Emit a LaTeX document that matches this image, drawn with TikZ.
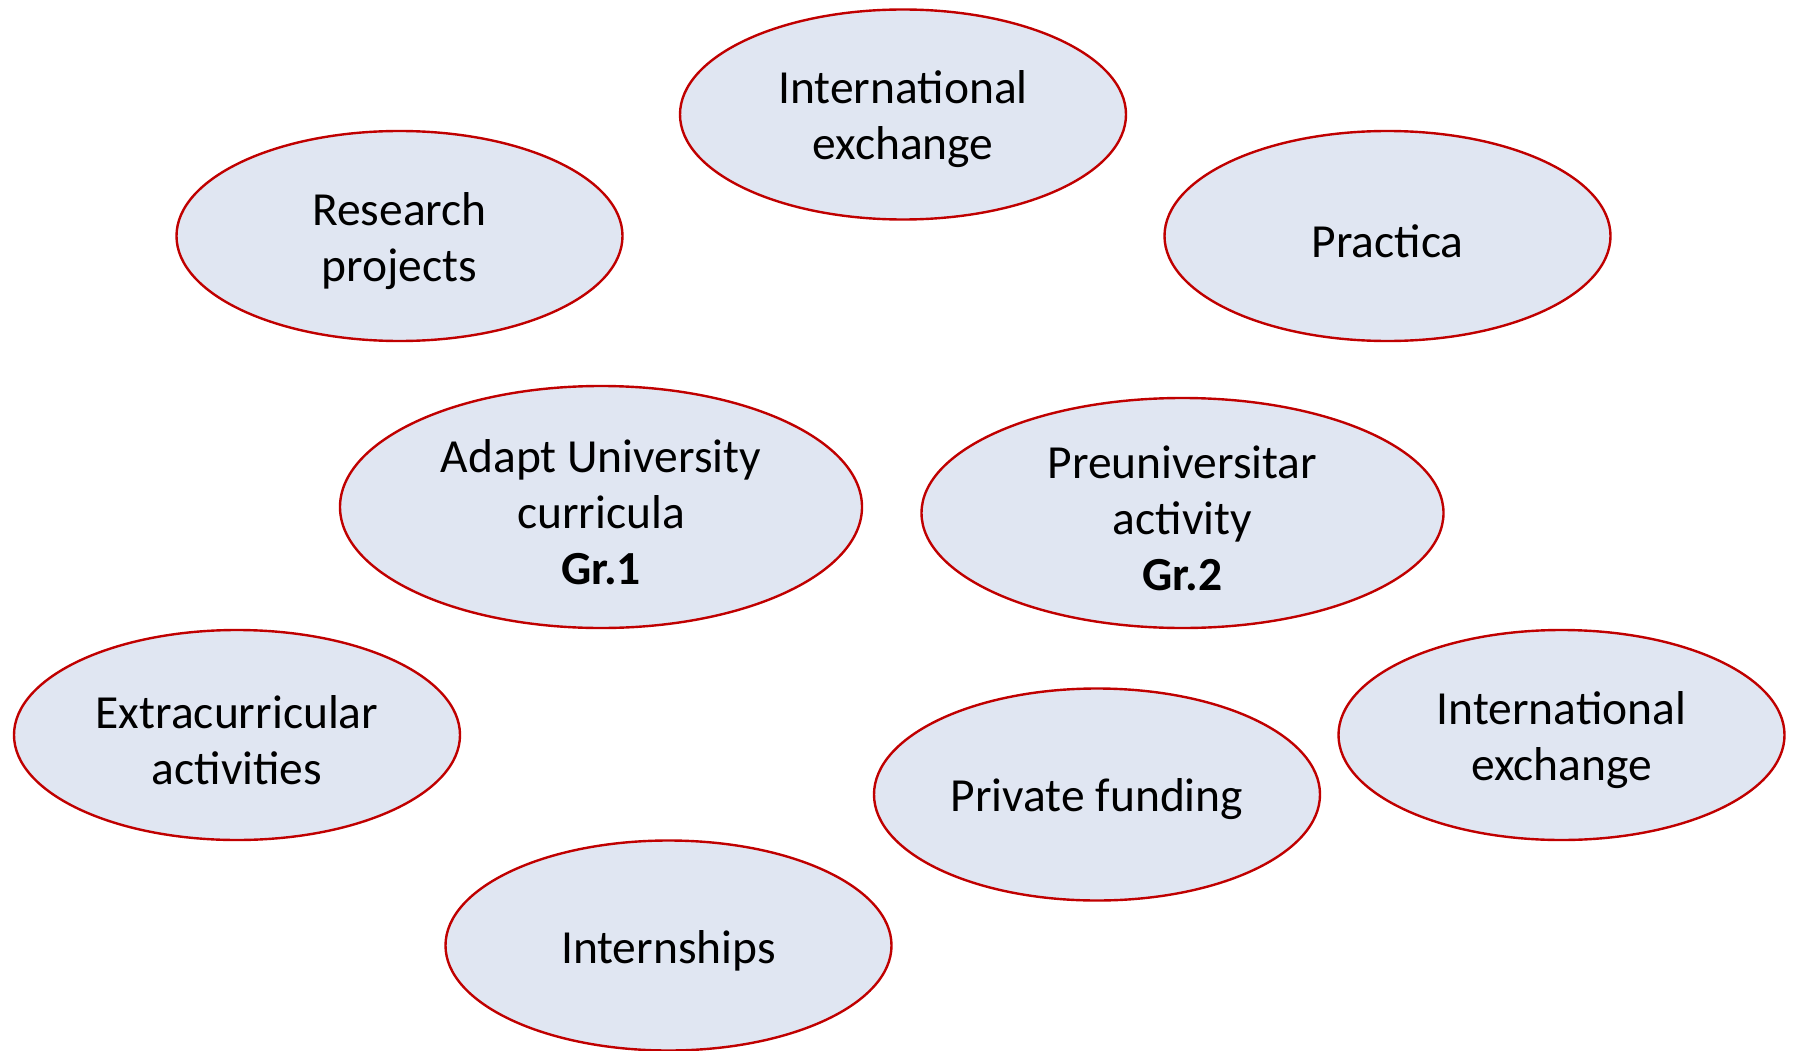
\documentclass[tikz,border=0pt]{standalone}
\usepackage{fontspec}
\setmainfont{Carlito}
\usetikzlibrary{shapes.geometric}
\definecolor{bubblefill}{RGB}{224,230,242}
\definecolor{bubbleline}{RGB}{192,0,0}
\begin{document}
\begin{tikzpicture}[x=1pt,y=-1pt,
  bubble/.style={ellipse, draw=bubbleline, fill=bubblefill, line width=2.4pt,
    inner sep=0pt, minimum width=446pt, minimum height=210pt},
  bigbubble/.style={bubble, minimum width=522pt},
  bubbletext/.style={align=center, inner sep=0pt, yshift=-5pt,
    font=\fontsize{47.5}{56}\selectfont}]
\useasboundingbox (0,0) rectangle (1795,1051);
\node[bubble, label={[bubbletext]center:{International\\exchange}}] (ie1) at (903,114.5) {};
\node[bubble, label={[bubbletext]center:{Research\\projects}}] (rp) at (399.5,236) {};
\node[bubble, label={[bubbletext]center:{Practica}}] (pr) at (1387.5,236) {};
\node[bigbubble, minimum height=242pt, label={[bubbletext]center:{Adapt University\\curricula\\\textbf{Gr.1}}}] (au) at (601,507) {};
\node[bigbubble, minimum height=230pt, label={[bubbletext]center:{Preuniversitar\\activity\\\textbf{Gr.2}}}] (pu) at (1182.5,513) {};
\node[bubble, label={[bubbletext]center:{Extracurricular\\activities}}] (ex) at (237,735) {};
\node[bubble, label={[bubbletext]center:{International\\exchange}}] (ie2) at (1561.5,735) {};
\node[bubble, minimum height=212pt, label={[bubbletext]center:{Private funding}}] (pf) at (1097,794.5) {};
\node[bubble, label={[bubbletext]center:{Internships}}] (in) at (668.5,945.5) {};
\end{tikzpicture}
\end{document}
